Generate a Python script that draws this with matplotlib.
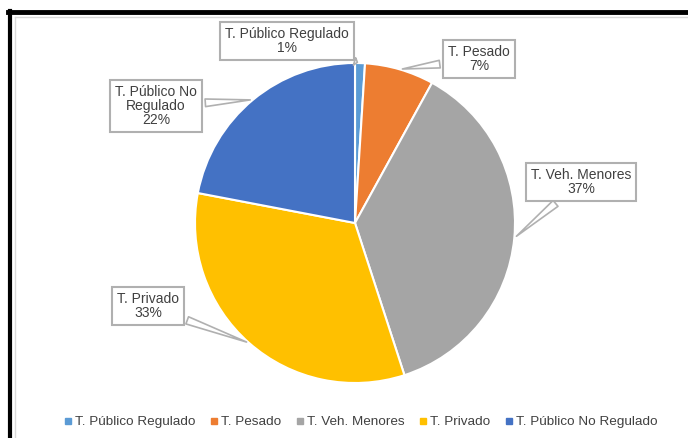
import numpy as np
import matplotlib.pyplot as plt
from matplotlib.lines import Line2D

plt.rcParams["font.family"] = ["Liberation Sans", "DejaVu Sans"]

categories = ["T. Público Regulado", "T. Pesado", "T. Veh. Menores",
              "T. Privado", "T. Público No Regulado"]
shares = [1, 7, 37, 33, 22]
colors = ["#5B9BD5", "#ED7D31", "#A5A5A5", "#FFC000", "#4472C4"]

# callout labels (text split the way it wraps in the boxes)
label_names = ["T. Público Regulado", "T. Pesado", "T. Veh. Menores",
               "T. Privado", "T. Público No\nRegulado"]
# box centres, in pixels from the lower-left corner
label_pos = [(287, 397), (479, 379), (581, 256), (148, 132), (156, 332)]

W, H = 688, 438
CX, CY, R = 355, 215, 160
TEXT = "#404040"

fig = plt.figure(figsize=(W / 100, H / 100), dpi=100)
ax = fig.add_axes([0, 0, 1, 1])

wedges, _ = ax.pie(shares, colors=colors, startangle=90, counterclock=False,
                   center=(CX, CY), radius=R, frame=True,
                   wedgeprops=dict(edgecolor="white", linewidth=1.5))
ax.set_xlim(0, W)
ax.set_ylim(0, H)
ax.set_aspect("equal")
ax.axis("off")

total = sum(shares)
start = 90.0
for i, (name, val) in enumerate(zip(label_names, shares)):
    span = 360.0 * val / total
    mid = np.deg2rad(start - span / 2)
    start -= span
    tip = (CX + R * np.cos(mid), CY + R * np.sin(mid))
    ax.annotate(f"{name}\n{val}%", xy=tip, xytext=label_pos[i],
                ha="center", va="center", fontsize=10, color=TEXT,
                linespacing=1.0,
                bbox=dict(boxstyle="square,pad=0.35", fc="white",
                          ec="#B0B0B0", lw=1.5),
                arrowprops=dict(arrowstyle="wedge,tail_width=0.55,shrink_factor=0.5",
                                fc="white", ec="#B0B0B0", lw=1.2),
                zorder=5)

handles = [Line2D([], [], marker="s", linestyle="none", markersize=4,
                  markerfacecolor=c, markeredgecolor=c) for c in colors]
fig.legend(handles, categories, loc="center", ncol=5,
           bbox_to_anchor=(0.525, (H - 422) / H), frameon=False,
           fontsize=9.7, labelcolor=TEXT, handlelength=0.5,
           handletextpad=0.3, columnspacing=1.1)

# outer frame: heavy black rule on the left and top, faint inner edge
fig.add_artist(Line2D([9.5 / W, 9.5 / W], [0, 1 - 11 / H], color="black",
                      lw=3, transform=fig.transFigure))
fig.add_artist(Line2D([8 / W, 1], [1 - 12 / H, 1 - 12 / H], color="black",
                      lw=3.5, transform=fig.transFigure))
fig.add_artist(Line2D([15 / W, 15 / W], [0, 1 - 17 / H], color="#D9D9D9",
                      lw=1, transform=fig.transFigure))
fig.add_artist(Line2D([15 / W, 1], [1 - 17 / H, 1 - 17 / H], color="#D9D9D9",
                      lw=1, transform=fig.transFigure))

fig.savefig("out.png", dpi=100)
